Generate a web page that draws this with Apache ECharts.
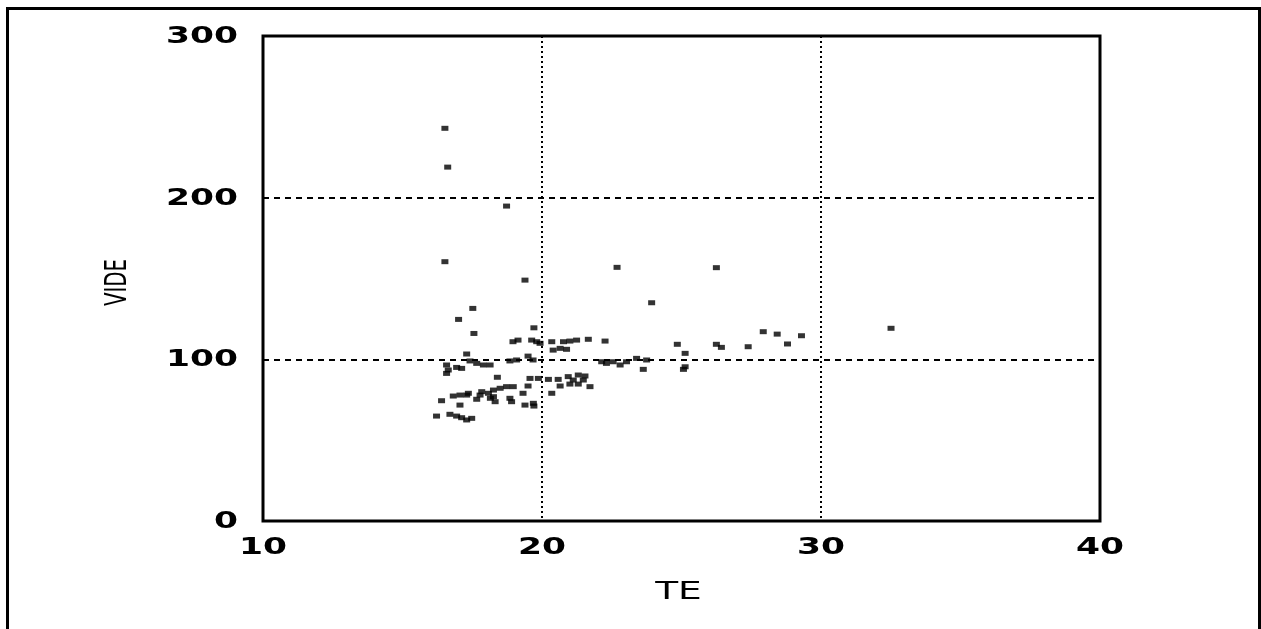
<!DOCTYPE html>
<html>
<head>
<meta charset="utf-8">
<script src="https://cdn.jsdelivr.net/npm/echarts@6/dist/echarts.min.js"></script>
<style>html,body{margin:0;padding:0;background:#fff;}#c{width:1261px;height:629px;}</style>
</head>
<body>
<div id="c"></div>
<script>
const teValues = [
  16.52, 16.62, 18.73, 16.52, 19.39, 22.69, 26.25,
  17.52, 17.01, 17.56, 23.93, 19.71,
  18.96, 19.14, 19.63, 19.81, 19.93,
  20.35, 20.77, 21.00, 21.24, 21.66, 22.26,
  20.40, 20.65, 20.88, 17.30,
  18.85, 19.09, 19.50, 19.68,
  17.42, 17.66, 17.90, 18.14,
  16.58, 16.64, 16.58, 16.94, 17.12,
  22.14, 22.31, 22.55, 22.80, 23.03, 23.39, 23.75, 23.63,
  18.40, 19.57, 19.87, 20.23, 20.58, 20.94, 21.30, 21.54, 21.48, 21.12,
  21.72, 21.30, 21.00, 20.65, 19.50,
  20.35, 19.32, 17.78, 17.84,
  18.08, 18.26, 18.50, 18.73, 18.97,
  16.82, 17.06, 17.30, 17.36, 16.40, 17.06, 17.66,
  18.15, 18.26, 18.32, 18.85, 18.91, 19.39, 19.69, 19.71,
  16.22, 16.70, 16.94, 17.12, 17.30, 17.48,
  24.85, 25.13, 25.13, 25.07, 26.25, 26.43, 27.39,
  27.93, 28.43, 28.80, 29.30, 32.51
];
const videValues = [
  242.9, 218.9, 194.8, 160.4, 149.0, 156.9, 156.7,
  131.5, 124.7, 116.0, 135.0, 119.5,
  110.9, 111.9, 111.9, 110.9, 109.9,
  110.9, 110.9, 111.3, 111.9, 112.4, 111.3,
  105.7, 106.8, 106.2, 103.3,
  99.0, 99.6, 102.0, 99.6,
  99.0, 97.5, 96.5, 96.5,
  96.5, 93.4, 91.3, 95.0, 94.4,
  98.5, 97.5, 98.5, 96.5, 98.5, 100.6, 99.6, 93.8,
  88.9, 88.2, 88.2, 87.6, 87.6, 89.3, 90.3, 89.7, 87.2, 87.2,
  83.1, 84.7, 84.7, 83.5, 83.5,
  79.0, 79.0, 77.9, 80.0,
  79.0, 81.0, 82.1, 83.1, 83.1,
  77.3, 77.9, 77.9, 79.0, 74.4, 71.7, 75.3,
  75.9, 76.9, 73.8, 75.9, 73.8, 71.7, 72.8, 71.1,
  64.9, 66.0, 64.9, 63.9, 62.5, 63.5,
  109.3, 103.7, 95.4, 93.8, 109.3, 107.4, 107.8,
  117.1, 115.6, 109.5, 114.6, 119.2
];
const xTicks = [10, 20, 30, 40];
const yTicks = [0, 100, 200, 300];
const xName = 'TE';
const yName = 'VIDE';

const points = teValues.map((x, i) => [x, videValues[i]]);
const chart = echarts.init(document.getElementById('c'));
const tickFont = 'bold 23px "DejaVu Sans"';
chart.setOption({
  backgroundColor: '#fff',
  animation: false,
  grid: { left: 263, top: 36, right: 161, bottom: 108, show: true, borderColor: '#000', borderWidth: 3, backgroundColor: 'transparent' },
  xAxis: {
    type: 'value', min: xTicks[0], max: xTicks[xTicks.length - 1], interval: 10,
    axisLine: { show: false }, axisTick: { show: false }, axisLabel: { show: false },
    splitLine: { show: true, lineStyle: { color: '#000', width: 2, type: [2, 3] } }
  },
  yAxis: {
    type: 'value', min: yTicks[0], max: yTicks[yTicks.length - 1], interval: 100,
    axisLine: { show: false }, axisTick: { show: false }, axisLabel: { show: false },
    splitLine: { show: true, lineStyle: { color: '#000', width: 2, type: [6, 5] } }
  },
  series: [{
    type: 'scatter',
    data: points,
    symbol: 'rect',
    symbolSize: [7, 5],
    itemStyle: { color: '#000' }
  }]
});

// axis labels drawn as stretched text, positioned through the chart's own scales
const gfx = [
  { type: 'rect', left: 5, top: 6, shape: { x: 0, y: 0, width: 1252, height: 640 }, style: { fill: 'none', stroke: '#000', lineWidth: 3 }, silent: true }
];
const yAxisX = chart.convertToPixel({ xAxisIndex: 0 }, xTicks[0]);
const xAxisY = chart.convertToPixel({ yAxisIndex: 0 }, yTicks[0]);
xTicks.forEach(v => {
  gfx.push({ type: 'text', x: chart.convertToPixel({ xAxisIndex: 0 }, v), y: xAxisY + 27, scaleX: 1.5,
    style: { text: String(v), font: tickFont, fill: '#000', align: 'center', verticalAlign: 'middle' } });
});
yTicks.forEach(v => {
  gfx.push({ type: 'text', x: yAxisX - 25, y: chart.convertToPixel({ yAxisIndex: 0 }, v) + 1, scaleX: 1.5,
    style: { text: String(v), font: tickFont, fill: '#000', align: 'right', verticalAlign: 'middle' } });
});
const xMid = (chart.convertToPixel({ xAxisIndex: 0 }, xTicks[0]) + chart.convertToPixel({ xAxisIndex: 0 }, xTicks[xTicks.length - 1])) / 2;
const yMid = (chart.convertToPixel({ yAxisIndex: 0 }, yTicks[0]) + chart.convertToPixel({ yAxisIndex: 0 }, yTicks[yTicks.length - 1])) / 2;
gfx.push({ type: 'text', x: xMid - 3, y: xAxisY + 71, scaleX: 1.5,
  style: { text: xName, font: '25px "DejaVu Sans"', fill: '#000', align: 'center', verticalAlign: 'middle' } });
gfx.push({ type: 'text', x: yAxisX - 145, y: yMid + 4, rotation: Math.PI / 2, scaleX: 0.66,
  style: { text: yName, font: '30px "DejaVu Sans"', fill: '#000', align: 'center', verticalAlign: 'middle' } });
chart.setOption({ graphic: gfx });
</script>
</body>
</html>
